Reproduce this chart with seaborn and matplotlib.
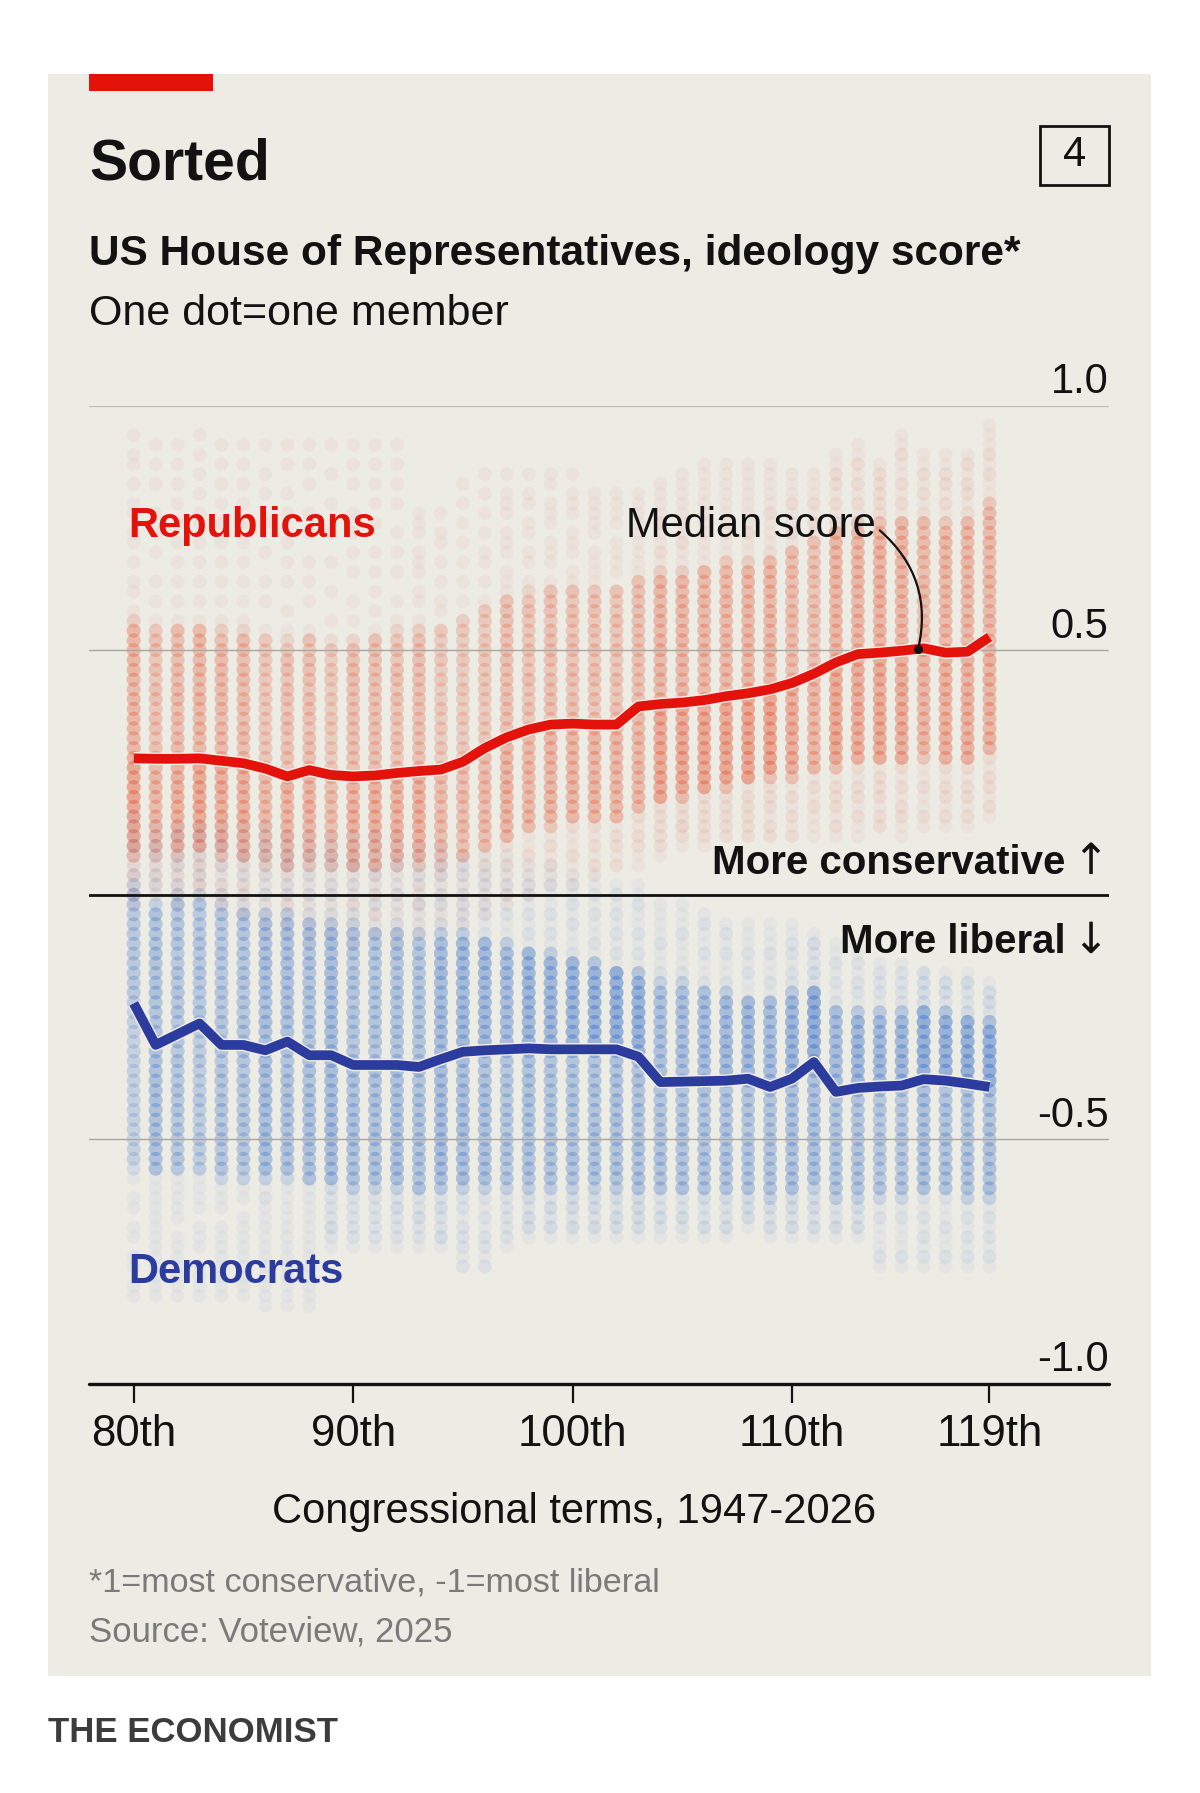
import numpy as np
import pandas as pd
import matplotlib
matplotlib.use("Agg")
import matplotlib.pyplot as plt
import matplotlib.patheffects as pe
from matplotlib.patches import Rectangle
import seaborn as sns

# ---------------- data ----------------
congress = list(range(80, 120))
tick_congress = [80, 90, 100, 110, 119]
tick_labels = ["80th", "90th", "100th", "110th", "119th"]

rep_seats = [246, 171, 199, 221, 203, 201, 153, 175, 176, 140,
             187, 192, 180, 192, 144, 143, 157, 192, 166, 182,
             177, 175, 167, 176, 230, 227, 223, 221, 229, 232,
             202, 178, 242, 234, 247, 241, 199, 222, 222, 220]
dem_seats = [188, 263, 235, 213, 232, 234, 283, 262, 258, 295,
             248, 243, 255, 242, 291, 292, 277, 243, 269, 253,
             258, 260, 267, 258, 204, 207, 211, 212, 205, 202,
             233, 257, 193, 201, 188, 194, 235, 213, 213, 215]

rep_median = [0.279, 0.278, 0.278, 0.279, 0.274, 0.269, 0.258, 0.242, 0.255, 0.245,
              0.242, 0.244, 0.249, 0.253, 0.256, 0.272, 0.300, 0.322, 0.338, 0.348,
              0.350, 0.348, 0.348, 0.385, 0.390, 0.393, 0.398, 0.406, 0.412, 0.420,
              0.433, 0.452, 0.475, 0.492, 0.495, 0.499, 0.504, 0.495, 0.497, 0.527]
rep_min = [-0.02, 0.00, -0.02, 0.00, -0.03, -0.05, -0.08, -0.08, -0.10, -0.10,
           -0.10, -0.08, -0.10, -0.08, -0.06, -0.06, -0.04, -0.03, 0.00, 0.02,
           0.02, 0.03, 0.05, 0.06, 0.08, 0.10, 0.10, 0.11, 0.11, 0.11,
           0.11, 0.12, 0.12, 0.12, 0.13, 0.12, 0.13, 0.14, 0.14, 0.16]
rep_p05 = [0.08, 0.08, 0.08, 0.09, 0.08, 0.07, 0.06, 0.05, 0.06, 0.05,
           0.05, 0.05, 0.06, 0.06, 0.06, 0.07, 0.09, 0.11, 0.13, 0.14,
           0.15, 0.15, 0.15, 0.17, 0.19, 0.20, 0.21, 0.22, 0.23, 0.24,
           0.24, 0.25, 0.26, 0.27, 0.27, 0.27, 0.28, 0.27, 0.27, 0.29]
rep_p95 = [0.56, 0.55, 0.55, 0.55, 0.54, 0.54, 0.53, 0.52, 0.53, 0.52,
           0.52, 0.53, 0.54, 0.54, 0.55, 0.57, 0.59, 0.61, 0.62, 0.63,
           0.63, 0.63, 0.63, 0.65, 0.66, 0.66, 0.67, 0.68, 0.68, 0.69,
           0.71, 0.73, 0.75, 0.76, 0.76, 0.77, 0.77, 0.76, 0.77, 0.80]
rep_max = [0.95, 0.95, 0.95, 0.95, 0.95, 0.95, 0.95, 0.95, 0.95, 0.95,
           0.95, 0.95, 0.95, 0.80, 0.80, 0.87, 0.87, 0.87, 0.87, 0.87,
           0.87, 0.84, 0.84, 0.84, 0.84, 0.86, 0.88, 0.88, 0.88, 0.88,
           0.86, 0.86, 0.90, 0.92, 0.88, 0.94, 0.90, 0.90, 0.90, 0.96]

dem_median = [-0.222, -0.307, -0.285, -0.263, -0.307, -0.307, -0.318, -0.300, -0.328, -0.328,
              -0.348, -0.348, -0.348, -0.352, -0.336, -0.321, -0.318, -0.316, -0.314, -0.316,
              -0.316, -0.316, -0.316, -0.331, -0.383, -0.382, -0.381, -0.380, -0.376, -0.393,
              -0.376, -0.342, -0.403, -0.395, -0.392, -0.390, -0.377, -0.380, -0.386, -0.393]
dem_max = [0.16, 0.14, 0.14, 0.15, 0.14, 0.14, 0.14, 0.12, 0.12, 0.12,
           0.12, 0.12, 0.12, 0.10, 0.10, 0.08, 0.08, 0.08, 0.06, 0.06,
           0.05, 0.04, 0.03, 0.02, -0.02, -0.02, -0.03, -0.05, -0.06, -0.06,
           -0.06, -0.08, -0.10, -0.12, -0.14, -0.14, -0.15, -0.16, -0.16, -0.18]
dem_p95 = [0.02, -0.02, 0.00, 0.00, -0.02, -0.03, -0.04, -0.04, -0.05, -0.06,
           -0.06, -0.07, -0.07, -0.08, -0.08, -0.08, -0.09, -0.10, -0.11, -0.12,
           -0.13, -0.14, -0.15, -0.16, -0.18, -0.18, -0.19, -0.20, -0.21, -0.21,
           -0.20, -0.19, -0.23, -0.24, -0.24, -0.24, -0.23, -0.24, -0.25, -0.26]
dem_p05 = [-0.56, -0.57, -0.57, -0.57, -0.58, -0.58, -0.58, -0.58, -0.59, -0.59,
           -0.60, -0.60, -0.60, -0.61, -0.60, -0.60, -0.60, -0.60, -0.60, -0.60,
           -0.60, -0.60, -0.60, -0.61, -0.61, -0.61, -0.61, -0.61, -0.61, -0.62,
           -0.61, -0.60, -0.62, -0.62, -0.62, -0.62, -0.61, -0.61, -0.62, -0.62]
dem_min = [-0.84, -0.84, -0.84, -0.84, -0.84, -0.84, -0.84, -0.84, -0.84, -0.72,
           -0.72, -0.72, -0.72, -0.72, -0.72, -0.77, -0.77, -0.72, -0.70, -0.70,
           -0.70, -0.70, -0.70, -0.70, -0.70, -0.70, -0.70, -0.70, -0.68, -0.70,
           -0.70, -0.70, -0.70, -0.70, -0.77, -0.77, -0.77, -0.77, -0.77, -0.77]

# ---------------- build member table from the read quantiles ----------------
qp = [0.0, 0.05, 0.5, 0.95, 1.0]
rows = []
for i, c in enumerate(congress):
    for party, n, knots in (
        ("Republican", rep_seats[i], [rep_min[i], rep_p05[i], rep_median[i], rep_p95[i], rep_max[i]]),
        ("Democrat", dem_seats[i], [dem_min[i], dem_p05[i], dem_median[i], dem_p95[i], dem_max[i]]),
    ):
        probs = (np.arange(n) + 0.5) / n
        vals = np.round(np.interp(probs, qp, knots) / 0.02) * 0.02
        for v in vals:
            rows.append((c, party, v))
members = pd.DataFrame(rows, columns=["congress", "party", "score"])
medians = pd.DataFrame({"congress": congress * 2,
                        "party": ["Republican"] * 40 + ["Democrat"] * 40,
                        "median": rep_median + dem_median})

# ---------------- style ----------------
sns.set_style("white")
plt.rcParams["font.family"] = ["Liberation Sans Narrow", "Liberation Sans", "DejaVu Sans"]

BG = "#ECEBE4"
RED = "#E3120B"
BLUE = "#2B3C9E"
DOT_RED = "#E8603F"
DOT_BLUE = "#5285D4"
INK = "#121212"
GREY = "#7A7A7A"

W, H = 1050.0, 1569.0
fx = lambda x: x / W
fy = lambda y: 1 - y / H

fig = plt.figure(figsize=(12, 17.93), dpi=100)
fig.patch.set_facecolor("white")
fig.patches.append(Rectangle((fx(42), fy(1467)), fx(1007) - fx(42), fy(65) - fy(1467),
                             transform=fig.transFigure, facecolor=BG, edgecolor="none", zorder=-10))
fig.patches.append(Rectangle((fx(78), fy(80)), fx(186) - fx(78), fy(65) - fy(80),
                             transform=fig.transFigure, facecolor=RED, edgecolor="none", zorder=-5))
fig.patches.append(Rectangle((fx(910), fy(162)), fx(970) - fx(910), fy(110) - fy(162),
                             transform=fig.transFigure, facecolor="none", edgecolor=INK,
                             linewidth=2, zorder=-5))
fig.text(fx(940), fy(136), "4", ha="center", va="center", fontsize=30, color=INK)

fig.text(fx(78), fy(157), "Sorted", fontsize=41, fontweight="bold", color=INK, va="baseline")
fig.text(fx(78), fy(232), "US House of Representatives, ideology score*", fontsize=30.5,
         fontweight="bold", color=INK, va="baseline")
fig.text(fx(78), fy(284), "One dot=one member", fontsize=31, color=INK, va="baseline")

ax = fig.add_axes([fx(78), fy(1211), fx(970) - fx(78), fy(355) - fy(1211)])
ax.set_facecolor("none")
ax.patch.set_alpha(0)
xl = 80 - (117 - 78) / 19.2
xr = 80 + (970 - 117) / 19.2
ax.set_xlim(xl, xr)
ax.set_ylim(-1, 1)

# dots
sns.scatterplot(data=members, x="congress", y="score", hue="party",
                palette={"Republican": DOT_RED, "Democrat": DOT_BLUE},
                hue_order=["Republican", "Democrat"],
                s=100, alpha=0.05, linewidth=0, legend=False, ax=ax, zorder=1)

# grid / reference lines
ax.axhline(1.0, color="#BDBCB6", lw=1.6, zorder=2)
ax.axhline(0.5, color="#A9A8A2", lw=1.0, zorder=2)
ax.axhline(-0.5, color="#A9A8A2", lw=1.0, zorder=2)
ax.axhline(0.0, color=INK, lw=2.0, zorder=4)
ax.axhline(-1.0, color=INK, lw=2.4, zorder=4, clip_on=False)

# medians
halo = [pe.Stroke(linewidth=9, foreground="#F4EEE8"), pe.Normal()]
sns.lineplot(data=medians, x="congress", y="median", hue="party",
             palette={"Republican": RED, "Democrat": BLUE},
             linewidth=7, legend=False, ax=ax, zorder=5,
             path_effects=halo, solid_capstyle="butt")

# annotation
xd = 115.75
yd = float(np.interp(xd, congress, rep_median))
ax.annotate("", xy=(xd, yd), xytext=(114.0, 0.745),
            arrowprops=dict(arrowstyle="-", color=INK, lw=1.6,
                            connectionstyle="arc3,rad=-0.3", shrinkA=0, shrinkB=0),
            zorder=6)
ax.scatter([xd], [yd], s=30, color=INK, zorder=7)
ax.text(102.45, 0.731, "Median score", fontsize=30, color=INK, va="baseline", ha="left")

ax.text(79.74, 0.731, "Republicans", fontsize=30, fontweight="bold", color=RED, va="baseline")
ax.text(79.74, -0.794, "Democrats", fontsize=30, fontweight="bold", color=BLUE, va="baseline")
x_txt = 80 + (932 - 117) / 19.2
ax.text(x_txt, 0.042, "More conservative", fontsize=29, fontweight="bold", color=INK,
        va="baseline", ha="right")
ax.text(x_txt, -0.119, "More liberal", fontsize=29, fontweight="bold", color=INK,
        va="baseline", ha="right")
ax.text(xr, 0.042, "\u2191", fontsize=31, color=INK, va="baseline", ha="right",
        family="DejaVu Sans")
ax.text(xr, -0.119, "\u2193", fontsize=31, color=INK, va="baseline", ha="right",
        family="DejaVu Sans")

for v, lab in [(1.0, "1.0"), (0.5, "0.5"), (-0.5, "-0.5"), (-1.0, "-1.0")]:
    ax.text(xr, v + 0.026, lab, fontsize=30, color=INK, ha="right", va="baseline")

# axes
for s in ax.spines.values():
    s.set_visible(False)
ax.set_yticks([])
ax.set_xticks(tick_congress)
ax.set_xticklabels(tick_labels, fontsize=31.5, color=INK)
ax.tick_params(axis="x", bottom=True, direction="out", length=14, width=1.6,
               color=INK, pad=8)
ax.set_xlabel("")
ax.set_ylabel("")

fig.text(fx(502), fy(1333), "Congressional terms, 1947-2026", fontsize=30, color=INK,
         ha="center", va="baseline")
fig.text(fx(78), fy(1393), "*1=most conservative, -1=most liberal", fontsize=24.6,
         color=GREY, va="baseline")
fig.text(fx(78), fy(1436), "Source: Voteview, 2025", fontsize=25, color=GREY, va="baseline")
fig.text(fx(42), fy(1524), "THE ECONOMIST", fontsize=25, color="#3C3C3C",
         fontweight="bold", va="baseline")

fig.savefig("out.png", dpi=100, facecolor="white")
